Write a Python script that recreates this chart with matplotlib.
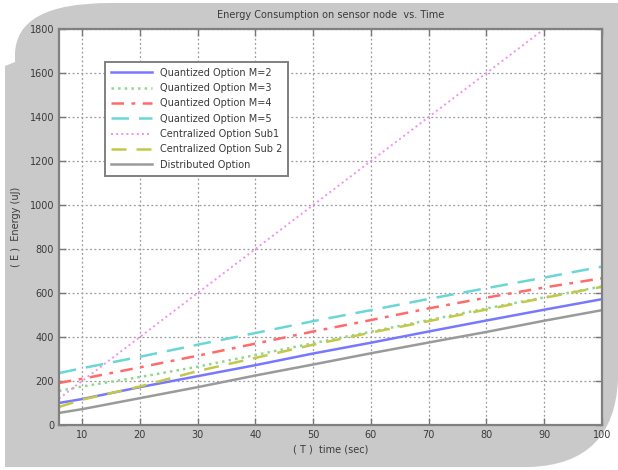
import matplotlib
matplotlib.use("Agg")
import matplotlib.pyplot as plt
from matplotlib.path import Path
from matplotlib.patches import PathPatch

# ---- data ----
t = [6, 10, 20, 30, 40, 50, 60, 70, 80, 90, 100]
q_m2 = [100, 118, 172, 222, 272, 325, 374, 425, 475, 524, 572]
q_m3 = [155, 175, 218, 265, 318, 372, 424, 477, 530, 580, 630]
q_m4 = [191, 210, 262, 315, 370, 425, 477, 530, 579, 625, 667]
q_m5 = [236, 258, 310, 365, 418, 472, 522, 573, 622, 670, 720]
c_sub1 = [120, 200, 400, 600, 800, 1000, 1200, 1400, 1600, 1800, 2000]
c_sub2 = [82, 115, 175, 245, 305, 365, 420, 472, 525, 578, 628]
dist = [55, 72, 122, 172, 225, 275, 326, 375, 423, 474, 522]

labels = ["Quantized Option M=2", "Quantized Option M=3", "Quantized Option M=4",
          "Quantized Option M=5", "Centralized Option Sub1", "Centralized Option Sub 2",
          "Distributed Option"]
xticks = [10, 20, 30, 40, 50, 60, 70, 80, 90, 100]
yticks = [0, 200, 400, 600, 800, 1000, 1200, 1400, 1600, 1800]

W, H = 618, 470
fig = plt.figure(figsize=(W / 100, H / 100), dpi=100)
fig.patch.set_facecolor("white")

# gray window background with rounded corners
def P(x, y):
    return (x / W, 1 - y / H)

verts = [P(110, 3), P(618, 3), P(618, 380), P(614, 464), P(530, 467),
         P(5, 467), P(5, 66), P(15, 62), P(15, 55), P(15, 3), P(110, 3)]
codes = [Path.MOVETO, Path.LINETO, Path.LINETO, Path.CURVE3, Path.CURVE3,
         Path.LINETO, Path.LINETO, Path.LINETO, Path.LINETO, Path.CURVE3, Path.CURVE3]
bg = PathPatch(Path(verts, codes), transform=fig.transFigure, facecolor="#c9c9c9",
               edgecolor="none", zorder=-10)
fig.add_artist(bg)

ax = fig.add_axes([59 / W, 1 - 425 / H, (602 - 59) / W, (425 - 29) / H])
ax.set_zorder(5)
ax.set_facecolor("white")

txtc = "#3a3a3a"
lw = 1.8
ax.plot(t, q_m2, color="#7878ff", ls="-", lw=lw, label=labels[0])
ax.plot(t, q_m3, color="#8ed88e", ls=":", lw=lw, label=labels[1])
ax.plot(t, q_m4, color="#ff6a6a", ls=(0, (5, 3, 1.5, 3)), lw=lw, label=labels[2])
ax.plot(t, q_m5, color="#6ad6d6", ls=(0, (7, 4)), lw=lw, label=labels[3])
ax.plot(t, c_sub1, color="#f38ef3", ls=":", lw=1.4, label=labels[4])
ax.plot(t, c_sub2, color="#c4c84a", ls=(0, (6, 4)), lw=lw, label=labels[5])
ax.plot(t, dist, color="#9a9a9a", ls="-", lw=lw, label=labels[6])

ax.set_xlim(6, 100)
ax.set_ylim(0, 1800)
ax.set_xticks(xticks)
ax.set_yticks(yticks)
ax.grid(True, ls=(0, (1.5, 2)), color="#9a9a9a", lw=0.9)
ax.tick_params(direction="in", length=5, width=1, colors="#777777",
               labelcolor=txtc, labelsize=7, top=True, right=True)
for s in ax.spines.values():
    s.set_color("#808080")
    s.set_linewidth(1.6)

ax.set_title("Energy Consumption on sensor node  vs. Time", fontsize=7, color=txtc, pad=8)
ax.set_xlabel("( T )  time (sec)", fontsize=7, color=txtc, labelpad=3)
ax.set_ylabel("( E )  Energy (uJ)", fontsize=7, color=txtc, labelpad=6)

leg = ax.legend(loc="upper left", bbox_to_anchor=(0.085, 0.917), borderaxespad=0,
                fontsize=7, handlelength=4.2, labelspacing=0.55, fancybox=False,
                framealpha=1, edgecolor="#808080", borderpad=0.6)
leg.get_frame().set_linewidth(1.4)
for txt in leg.get_texts():
    txt.set_color(txtc)

fig.savefig("out.png", dpi=100, facecolor=fig.get_facecolor())
